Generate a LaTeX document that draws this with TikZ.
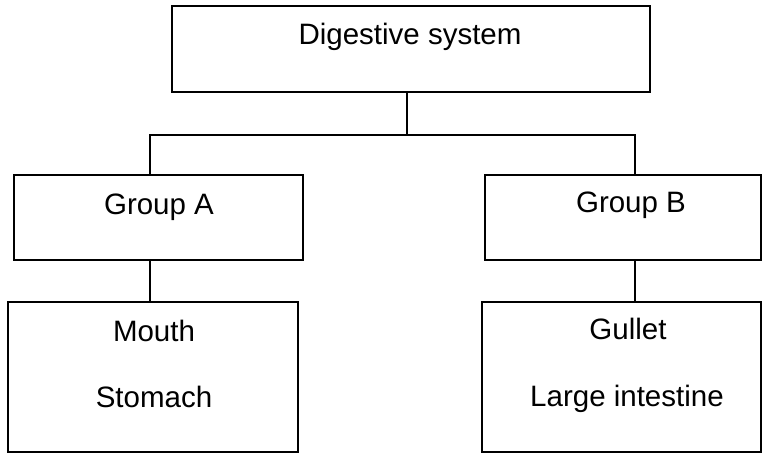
\documentclass[tikz,border=0pt]{standalone}
\usepackage{fontspec}
\setmainfont{Liberation Sans}
\begin{document}
\begin{tikzpicture}[x=1pt,y=-1pt,
  box/.style={draw, line width=1.8pt, inner sep=0pt},
  lbl/.style={font=\fontsize{29.5}{34}\selectfont, anchor=base, inner sep=0pt},
  link/.style={line width=1.8pt}]
\useasboundingbox (0,0) rectangle (764,454);
\fill[white] (0,0) rectangle (764,454);
% boxes
\node[box, minimum width=478pt, minimum height=86pt] (top) at (411,49) {};
\node[box, minimum width=289pt, minimum height=85pt] (gA) at (158.5,217.5) {};
\node[box, minimum width=276pt, minimum height=85pt] (gB) at (623,217.5) {};
\node[box, minimum width=290pt, minimum height=150pt] (bA) at (153,377) {};
\node[box, minimum width=279pt, minimum height=150pt] (bB) at (621.5,377) {};
% labels
\node[lbl] (tTop) at (410,45) {Digestive system};
\node[lbl] (tA) at (159,215) {Group A};
\node[lbl] (tB) at (631,213) {Group B};
\node[lbl] (tM) at (154,342) {Mouth};
\node[lbl] (tS) at (154,408) {Stomach};
\node[lbl] (tG) at (628,340) {Gullet};
\node[lbl] (tL) at (627,407) {Large intestine};
% connectors
\coordinate (jT) at (407,135);
\coordinate (jA) at (150,135);
\coordinate (jB) at (635,135);
\draw[link] (jT |- top.south) -- (jT);
\draw[link] (gA.north -| jA) -- (jA) -- (jB) -- (gB.north -| jB);
\draw[link] (gA.south -| jA) -- (bA.north -| jA);
\draw[link] (gB.south -| jB) -- (bB.north -| jB);
\end{tikzpicture}
\end{document}
